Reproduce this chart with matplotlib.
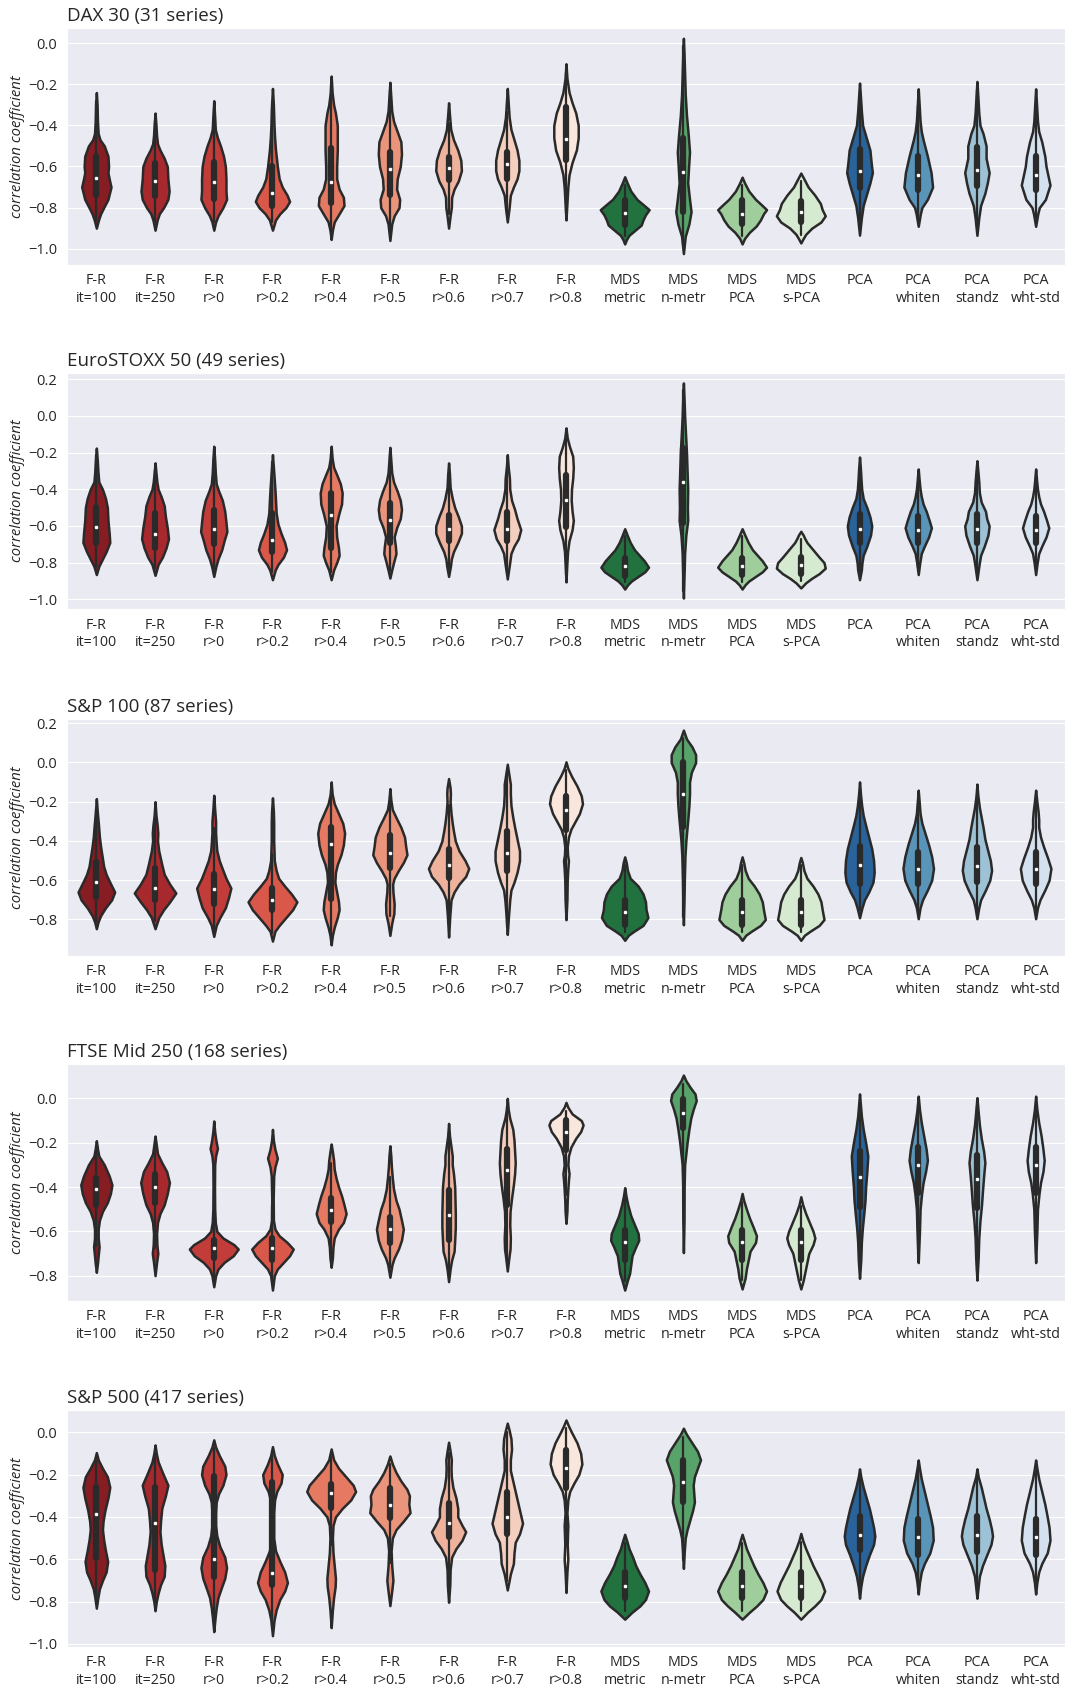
import numpy as np
import matplotlib
matplotlib.use('Agg')
import matplotlib.pyplot as plt
import seaborn as sns
from matplotlib.ticker import MultipleLocator

sns.set_style('darkgrid')
plt.rcParams['font.family'] = ['Open Sans', 'DejaVu Sans']

labels = ['F-R\nit=100', 'F-R\nit=250', 'F-R\nr>0', 'F-R\nr>0.2', 'F-R\nr>0.4',
          'F-R\nr>0.5', 'F-R\nr>0.6', 'F-R\nr>0.7', 'F-R\nr>0.8',
          'MDS\nmetric', 'MDS\nn-metr', 'MDS\nPCA', 'MDS\ns-PCA',
          'PCA', 'PCA\nwhiten', 'PCA\nstandz', 'PCA\nwht-std']

# density outlines: (correlation, half width) from top to bottom
dax_shape = [
    [(-0.24,0),(-0.30,0.012),(-0.38,0.018),(-0.44,0.03),(-0.47,0.06),(-0.50,0.13),(-0.55,0.19),(-0.60,0.2),(-0.63,0.19),(-0.66,0.21),(-0.70,0.24),(-0.76,0.19),(-0.80,0.12),(-0.83,0.07),(-0.86,0.035),(-0.90,0)],
    [(-0.34,0),(-0.40,0.015),(-0.45,0.025),(-0.49,0.04),(-0.52,0.08),(-0.56,0.15),(-0.60,0.2),(-0.66,0.21),(-0.72,0.23),(-0.76,0.21),(-0.80,0.14),(-0.83,0.07),(-0.86,0.035),(-0.91,0)],
    [(-0.28,0),(-0.36,0.015),(-0.42,0.025),(-0.46,0.06),(-0.50,0.11),(-0.55,0.16),(-0.60,0.19),(-0.66,0.2),(-0.72,0.2),(-0.76,0.21),(-0.80,0.15),(-0.84,0.07),(-0.87,0.03),(-0.91,0)],
    [(-0.22,0),(-0.30,0.015),(-0.40,0.025),(-0.46,0.035),(-0.52,0.05),(-0.60,0.08),(-0.66,0.11),(-0.70,0.16),(-0.74,0.24),(-0.77,0.28),(-0.80,0.22),(-0.83,0.12),(-0.86,0.05),(-0.91,0)],
    [(-0.16,0),(-0.24,0.015),(-0.30,0.04),(-0.34,0.07),(-0.40,0.1),(-0.46,0.1),(-0.52,0.1),(-0.60,0.09),(-0.66,0.09),(-0.71,0.13),(-0.75,0.2),(-0.79,0.21),(-0.83,0.13),(-0.87,0.05),(-0.91,0.02),(-0.955,0)],
    [(-0.19,0),(-0.26,0.015),(-0.33,0.03),(-0.38,0.06),(-0.43,0.12),(-0.48,0.18),(-0.54,0.19),(-0.60,0.17),(-0.66,0.12),(-0.71,0.11),(-0.76,0.16),(-0.80,0.15),(-0.84,0.07),(-0.88,0.03),(-0.96,0)],
    [(-0.29,0),(-0.35,0.015),(-0.42,0.035),(-0.47,0.08),(-0.52,0.15),(-0.57,0.2),(-0.62,0.21),(-0.67,0.16),(-0.71,0.09),(-0.75,0.05),(-0.80,0.045),(-0.84,0.025),(-0.90,0)],
    [(-0.22,0),(-0.29,0.015),(-0.36,0.03),(-0.42,0.06),(-0.47,0.11),(-0.52,0.16),(-0.57,0.19),(-0.62,0.19),(-0.66,0.16),(-0.70,0.1),(-0.74,0.05),(-0.80,0.03),(-0.87,0)],
    [(-0.10,0),(-0.17,0.015),(-0.24,0.05),(-0.29,0.1),(-0.34,0.16),(-0.40,0.2),(-0.46,0.2),(-0.52,0.17),(-0.58,0.1),(-0.64,0.05),(-0.70,0.03),(-0.78,0.015),(-0.86,0)],
    [(-0.65,0),(-0.68,0.04),(-0.72,0.1),(-0.76,0.2),(-0.79,0.32),(-0.81,0.4),(-0.835,0.34),(-0.86,0.3),(-0.885,0.27),(-0.91,0.17),(-0.935,0.07),(-0.955,0.03),(-0.977,0)],
    [(0.024,0),(-0.05,0.01),(-0.15,0.02),(-0.25,0.03),(-0.35,0.05),(-0.45,0.08),(-0.53,0.1),(-0.60,0.085),(-0.68,0.07),(-0.76,0.1),(-0.82,0.125),(-0.88,0.09),(-0.94,0.03),(-1.024,0)],
    [(-0.652,0),(-0.68,0.04),(-0.72,0.11),(-0.76,0.22),(-0.79,0.33),(-0.81,0.4),(-0.83,0.35),(-0.86,0.3),(-0.89,0.23),(-0.92,0.12),(-0.95,0.04),(-0.977,0)],
    [(-0.632,0),(-0.66,0.05),(-0.70,0.12),(-0.74,0.23),(-0.78,0.32),(-0.81,0.35),(-0.84,0.4),(-0.87,0.33),(-0.90,0.18),(-0.93,0.08),(-0.95,0.04),(-0.972,0)],
    [(-0.194,0),(-0.26,0.015),(-0.33,0.03),(-0.40,0.05),(-0.45,0.1),(-0.52,0.17),(-0.58,0.19),(-0.63,0.21),(-0.68,0.17),(-0.73,0.12),(-0.79,0.06),(-0.85,0.03),(-0.934,0)],
    [(-0.222,0),(-0.30,0.015),(-0.38,0.03),(-0.43,0.05),(-0.47,0.08),(-0.55,0.15),(-0.63,0.21),(-0.70,0.235),(-0.76,0.15),(-0.80,0.06),(-0.83,0.035),(-0.891,0)],
    [(-0.186,0),(-0.26,0.015),(-0.34,0.03),(-0.40,0.05),(-0.44,0.1),(-0.50,0.15),(-0.56,0.15),(-0.63,0.2),(-0.68,0.17),(-0.73,0.13),(-0.79,0.06),(-0.85,0.03),(-0.935,0)],
    [(-0.222,0),(-0.30,0.015),(-0.38,0.03),(-0.43,0.05),(-0.48,0.1),(-0.55,0.15),(-0.60,0.17),(-0.69,0.235),(-0.76,0.16),(-0.80,0.06),(-0.83,0.035),(-0.891,0)],
]
dax_q75 = [-0.55, -0.585, -0.58, -0.60, -0.51, -0.53, -0.555, -0.53, -0.31, -0.762, -0.462, -0.762, -0.77, -0.514, -0.551, -0.507, -0.551]
dax_q50 = [-0.655, -0.673, -0.677, -0.727, -0.675, -0.611, -0.605, -0.59, -0.465, -0.827, -0.629, -0.83, -0.823, -0.624, -0.64, -0.619, -0.64]
dax_q25 = [-0.74, -0.745, -0.76, -0.79, -0.78, -0.74, -0.665, -0.66, -0.57, -0.883, -0.822, -0.88, -0.872, -0.705, -0.716, -0.697, -0.716]

stoxx_shape = [
    [(-0.175,0),(-0.24,0.015),(-0.30,0.025),(-0.36,0.04),(-0.40,0.1),(-0.45,0.15),(-0.50,0.18),(-0.57,0.19),(-0.64,0.21),(-0.69,0.22),(-0.74,0.16),(-0.78,0.1),(-0.82,0.04),(-0.865,0)],
    [(-0.256,0),(-0.31,0.015),(-0.36,0.03),(-0.40,0.05),(-0.44,0.1),(-0.49,0.15),(-0.55,0.17),(-0.61,0.2),(-0.67,0.22),(-0.72,0.18),(-0.77,0.12),(-0.81,0.05),(-0.869,0)],
    [(-0.165,0),(-0.24,0.015),(-0.31,0.025),(-0.37,0.04),(-0.41,0.08),(-0.46,0.14),(-0.52,0.18),(-0.58,0.2),(-0.63,0.215),(-0.68,0.17),(-0.73,0.13),(-0.78,0.07),(-0.82,0.035),(-0.875,0)],
    [(-0.211,0),(-0.28,0.015),(-0.35,0.03),(-0.40,0.04),(-0.46,0.05),(-0.53,0.06),(-0.59,0.09),(-0.64,0.14),(-0.69,0.2),(-0.73,0.23),(-0.77,0.18),(-0.81,0.09),(-0.84,0.045),(-0.893,0)],
    [(-0.165,0),(-0.23,0.015),(-0.28,0.04),(-0.32,0.09),(-0.37,0.15),(-0.42,0.18),(-0.48,0.17),(-0.54,0.12),(-0.60,0.08),(-0.66,0.09),(-0.72,0.12),(-0.76,0.13),(-0.80,0.09),(-0.84,0.04),(-0.893,0)],
    [(-0.171,0),(-0.24,0.015),(-0.31,0.03),(-0.36,0.06),(-0.41,0.12),(-0.46,0.17),(-0.51,0.19),(-0.56,0.17),(-0.61,0.11),(-0.66,0.07),(-0.71,0.09),(-0.75,0.1),(-0.80,0.06),(-0.84,0.03),(-0.884,0)],
    [(-0.256,0),(-0.32,0.015),(-0.39,0.025),(-0.45,0.06),(-0.50,0.1),(-0.55,0.16),(-0.60,0.21),(-0.64,0.21),(-0.69,0.15),(-0.74,0.08),(-0.78,0.045),(-0.82,0.03),(-0.875,0)],
    [(-0.211,0),(-0.28,0.015),(-0.34,0.035),(-0.40,0.04),(-0.46,0.07),(-0.51,0.12),(-0.56,0.16),(-0.62,0.22),(-0.67,0.18),(-0.71,0.11),(-0.75,0.06),(-0.81,0.035),(-0.889,0)],
    [(-0.065,0),(-0.12,0.02),(-0.17,0.06),(-0.22,0.11),(-0.28,0.12),(-0.34,0.11),(-0.40,0.09),(-0.46,0.085),(-0.52,0.1),(-0.57,0.12),(-0.62,0.1),(-0.68,0.05),(-0.74,0.025),(-0.82,0.012),(-0.905,0)],
    [(-0.615,0),(-0.65,0.04),(-0.69,0.09),(-0.73,0.16),(-0.76,0.24),(-0.79,0.32),(-0.825,0.39),(-0.85,0.33),(-0.875,0.22),(-0.90,0.11),(-0.92,0.05),(-0.944,0)],
    [(0.18,0),(0.10,0.01),(0.0,0.02),(-0.10,0.035),(-0.20,0.05),(-0.30,0.06),(-0.40,0.07),(-0.50,0.065),(-0.57,0.07),(-0.65,0.04),(-0.75,0.02),(-0.85,0.012),(-0.993,0)],
    [(-0.615,0),(-0.65,0.045),(-0.69,0.1),(-0.73,0.17),(-0.76,0.25),(-0.79,0.33),(-0.825,0.4),(-0.85,0.33),(-0.875,0.22),(-0.90,0.11),(-0.92,0.05),(-0.944,0)],
    [(-0.629,0),(-0.65,0.04),(-0.665,0.06),(-0.69,0.1),(-0.73,0.2),(-0.77,0.3),(-0.80,0.38),(-0.83,0.4),(-0.86,0.3),(-0.885,0.18),(-0.91,0.08),(-0.938,0)],
    [(-0.224,0),(-0.29,0.015),(-0.35,0.025),(-0.40,0.035),(-0.45,0.06),(-0.50,0.12),(-0.55,0.17),(-0.60,0.2),(-0.65,0.18),(-0.71,0.12),(-0.76,0.06),(-0.80,0.04),(-0.84,0.03),(-0.893,0)],
    [(-0.289,0),(-0.35,0.015),(-0.40,0.03),(-0.44,0.05),(-0.48,0.08),(-0.52,0.13),(-0.57,0.18),(-0.61,0.215),(-0.66,0.17),(-0.71,0.1),(-0.75,0.05),(-0.80,0.025),(-0.865,0)],
    [(-0.244,0),(-0.30,0.015),(-0.36,0.03),(-0.42,0.04),(-0.47,0.07),(-0.52,0.14),(-0.56,0.16),(-0.60,0.2),(-0.65,0.18),(-0.71,0.12),(-0.76,0.06),(-0.81,0.035),(-0.893,0)],
    [(-0.289,0),(-0.35,0.015),(-0.40,0.03),(-0.44,0.05),(-0.48,0.08),(-0.52,0.13),(-0.57,0.18),(-0.61,0.215),(-0.66,0.17),(-0.71,0.1),(-0.75,0.05),(-0.80,0.025),(-0.865,0)],
]
stoxx_q75 = [-0.498, -0.529, -0.511, -0.529, -0.42, -0.475, -0.538, -0.525, -0.32, -0.775, -0.175, -0.775, -0.771, -0.533, -0.547, -0.533, -0.547]
stoxx_q50 = [-0.607, -0.642, -0.616, -0.678, -0.54, -0.565, -0.615, -0.615, -0.46, -0.816, -0.362, -0.816, -0.814, -0.615, -0.62, -0.615, -0.62]
stoxx_q25 = [-0.693, -0.72, -0.70, -0.744, -0.72, -0.693, -0.684, -0.684, -0.605, -0.871, -0.584, -0.867, -0.86, -0.693, -0.693, -0.693, -0.693]

sp100_shape = [
    [(-0.184,0),(-0.25,0.015),(-0.32,0.035),(-0.38,0.05),(-0.43,0.07),(-0.49,0.1),(-0.53,0.12),(-0.57,0.16),(-0.61,0.22),(-0.66,0.3),(-0.70,0.25),(-0.74,0.15),(-0.78,0.07),(-0.81,0.03),(-0.847,0)],
    [(-0.20,0),(-0.27,0.015),(-0.32,0.035),(-0.36,0.045),(-0.40,0.04),(-0.45,0.06),(-0.52,0.11),(-0.57,0.15),(-0.62,0.24),(-0.665,0.34),(-0.71,0.24),(-0.75,0.14),(-0.79,0.06),(-0.847,0)],
    [(-0.167,0),(-0.24,0.015),(-0.30,0.03),(-0.36,0.03),(-0.41,0.04),(-0.45,0.05),(-0.50,0.09),(-0.55,0.15),(-0.59,0.2),(-0.64,0.28),(-0.69,0.24),(-0.74,0.19),(-0.79,0.1),(-0.83,0.04),(-0.886,0)],
    [(-0.18,0),(-0.25,0.015),(-0.31,0.02),(-0.40,0.02),(-0.50,0.03),(-0.55,0.06),(-0.59,0.1),(-0.63,0.2),(-0.67,0.31),(-0.71,0.4),(-0.75,0.33),(-0.79,0.22),(-0.83,0.11),(-0.86,0.04),(-0.91,0)],
    [(-0.099,0),(-0.16,0.015),(-0.21,0.05),(-0.26,0.12),(-0.31,0.19),(-0.36,0.22),(-0.42,0.2),(-0.47,0.16),(-0.52,0.1),(-0.56,0.07),(-0.61,0.06),(-0.66,0.09),(-0.71,0.12),(-0.75,0.13),(-0.79,0.1),(-0.84,0.05),(-0.88,0.02),(-0.929,0)],
    [(-0.133,0),(-0.19,0.015),(-0.24,0.04),(-0.28,0.1),(-0.33,0.18),(-0.38,0.24),(-0.43,0.26),(-0.47,0.28),(-0.51,0.22),(-0.55,0.14),(-0.59,0.07),(-0.62,0.045),(-0.66,0.05),(-0.72,0.07),(-0.77,0.065),(-0.82,0.03),(-0.881,0)],
    [(-0.082,0),(-0.13,0.025),(-0.16,0.03),(-0.20,0.025),(-0.26,0.04),(-0.31,0.06),(-0.35,0.08),(-0.40,0.11),(-0.45,0.17),(-0.50,0.27),(-0.54,0.33),(-0.58,0.28),(-0.62,0.17),(-0.66,0.09),(-0.70,0.04),(-0.78,0.02),(-0.889,0)],
    [(-0.009,0),(-0.06,0.025),(-0.11,0.05),(-0.16,0.05),(-0.22,0.06),(-0.28,0.09),(-0.33,0.12),(-0.39,0.16),(-0.45,0.2),(-0.50,0.2),(-0.56,0.16),(-0.61,0.11),(-0.65,0.06),(-0.70,0.04),(-0.78,0.02),(-0.876,0)],
    [(0.003,0),(-0.03,0.03),(-0.07,0.09),(-0.12,0.18),(-0.17,0.25),(-0.21,0.27),(-0.26,0.22),(-0.30,0.15),(-0.34,0.08),(-0.38,0.04),(-0.43,0.02),(-0.47,0.025),(-0.50,0.04),(-0.54,0.03),(-0.60,0.02),(-0.70,0.015),(-0.801,0)],
    [(-0.481,0),(-0.51,0.025),(-0.55,0.045),(-0.59,0.09),(-0.63,0.22),(-0.67,0.3),(-0.71,0.34),(-0.75,0.35),(-0.79,0.38),(-0.83,0.3),(-0.86,0.15),(-0.88,0.06),(-0.906,0)],
    [(0.165,0),(0.12,0.05),(0.08,0.14),(0.04,0.2),(0.0,0.2),(-0.05,0.13),(-0.10,0.1),(-0.16,0.1),(-0.22,0.09),(-0.28,0.075),(-0.33,0.06),(-0.40,0.04),(-0.48,0.025),(-0.60,0.015),(-0.70,0.01),(-0.827,0)],
    [(-0.481,0),(-0.51,0.025),(-0.55,0.05),(-0.59,0.1),(-0.63,0.2),(-0.67,0.28),(-0.71,0.33),(-0.75,0.35),(-0.80,0.38),(-0.83,0.3),(-0.86,0.15),(-0.88,0.06),(-0.906,0)],
    [(-0.484,0),(-0.51,0.025),(-0.55,0.05),(-0.59,0.1),(-0.63,0.2),(-0.67,0.28),(-0.71,0.33),(-0.75,0.35),(-0.80,0.38),(-0.83,0.3),(-0.86,0.15),(-0.88,0.06),(-0.906,0)],
    [(-0.099,0),(-0.16,0.015),(-0.22,0.035),(-0.27,0.06),(-0.32,0.1),(-0.38,0.15),(-0.44,0.2),(-0.50,0.23),(-0.56,0.24),(-0.61,0.22),(-0.66,0.15),(-0.70,0.08),(-0.74,0.04),(-0.791,0)],
    [(-0.141,0),(-0.20,0.015),(-0.26,0.03),(-0.31,0.06),(-0.36,0.11),(-0.42,0.17),(-0.48,0.22),(-0.54,0.25),(-0.60,0.22),(-0.65,0.15),(-0.70,0.07),(-0.74,0.03),(-0.796,0)],
    [(-0.11,0),(-0.17,0.015),(-0.23,0.04),(-0.28,0.07),(-0.33,0.1),(-0.39,0.13),(-0.44,0.17),(-0.50,0.22),(-0.55,0.24),(-0.60,0.21),(-0.65,0.14),(-0.70,0.06),(-0.74,0.03),(-0.796,0)],
    [(-0.141,0),(-0.20,0.02),(-0.25,0.04),(-0.29,0.05),(-0.33,0.05),(-0.38,0.08),(-0.43,0.13),(-0.49,0.2),(-0.54,0.25),(-0.60,0.22),(-0.65,0.15),(-0.70,0.07),(-0.74,0.03),(-0.796,0)],
]
sp100_q75 = [-0.507, -0.537, -0.566, -0.639, -0.328, -0.371, -0.439, -0.349, -0.172, -0.702, 0.003, -0.702, -0.702, -0.427, -0.456, -0.43, -0.456]
sp100_q50 = [-0.609, -0.638, -0.643, -0.702, -0.417, -0.461, -0.524, -0.459, -0.243, -0.762, -0.163, -0.762, -0.762, -0.52, -0.541, -0.527, -0.541]
sp100_q25 = [-0.685, -0.702, -0.72, -0.753, -0.694, -0.536, -0.587, -0.553, -0.345, -0.83, -0.328, -0.83, -0.83, -0.617, -0.621, -0.609, -0.621]

ftse_shape = [
    [(-0.191,0),(-0.23,0.02),(-0.26,0.04),(-0.30,0.13),(-0.35,0.21),(-0.39,0.255),(-0.43,0.23),(-0.47,0.18),(-0.51,0.1),(-0.55,0.05),(-0.59,0.03),(-0.63,0.03),(-0.67,0.045),(-0.71,0.03),(-0.74,0.02),(-0.785,0)],
    [(-0.17,0),(-0.21,0.02),(-0.25,0.04),(-0.29,0.11),(-0.33,0.19),(-0.38,0.235),(-0.43,0.2),(-0.48,0.15),(-0.52,0.08),(-0.56,0.04),(-0.61,0.025),(-0.66,0.03),(-0.70,0.045),(-0.74,0.025),(-0.80,0)],
    [(-0.102,0),(-0.15,0.015),(-0.19,0.035),(-0.226,0.06),(-0.26,0.03),(-0.30,0.015),(-0.40,0.012),(-0.50,0.015),(-0.56,0.025),(-0.60,0.05),(-0.63,0.15),(-0.66,0.33),(-0.68,0.4),(-0.71,0.32),(-0.74,0.17),(-0.77,0.07),(-0.80,0.03),(-0.85,0)],
    [(-0.14,0),(-0.19,0.015),(-0.23,0.04),(-0.27,0.08),(-0.31,0.04),(-0.35,0.02),(-0.45,0.012),(-0.55,0.015),(-0.59,0.04),(-0.62,0.11),(-0.65,0.24),(-0.68,0.34),(-0.71,0.28),(-0.74,0.18),(-0.77,0.08),(-0.80,0.03),(-0.865,0)],
    [(-0.206,0),(-0.24,0.02),(-0.28,0.04),(-0.32,0.05),(-0.36,0.08),(-0.40,0.12),(-0.44,0.17),(-0.48,0.21),(-0.52,0.245),(-0.56,0.2),(-0.59,0.12),(-0.63,0.05),(-0.67,0.03),(-0.72,0.02),(-0.762,0)],
    [(-0.214,0),(-0.26,0.015),(-0.31,0.025),(-0.36,0.04),(-0.41,0.06),(-0.46,0.1),(-0.50,0.15),(-0.55,0.19),(-0.59,0.22),(-0.64,0.19),(-0.68,0.14),(-0.72,0.07),(-0.75,0.035),(-0.807,0)],
    [(-0.113,0),(-0.17,0.015),(-0.22,0.04),(-0.26,0.06),(-0.30,0.06),(-0.34,0.08),(-0.40,0.1),(-0.46,0.105),(-0.52,0.11),(-0.58,0.11),(-0.64,0.1),(-0.69,0.09),(-0.73,0.05),(-0.77,0.025),(-0.827,0)],
    [(0.0,0),(-0.05,0.015),(-0.09,0.04),(-0.14,0.09),(-0.19,0.11),(-0.24,0.12),(-0.29,0.13),(-0.34,0.12),(-0.39,0.1),(-0.45,0.07),(-0.51,0.045),(-0.57,0.04),(-0.63,0.05),(-0.68,0.045),(-0.72,0.025),(-0.779,0)],
    [(-0.018,0),(-0.04,0.03),(-0.07,0.1),(-0.10,0.25),(-0.12,0.28),(-0.15,0.24),(-0.18,0.16),(-0.22,0.08),(-0.26,0.04),(-0.30,0.03),(-0.34,0.05),(-0.37,0.04),(-0.41,0.03),(-0.46,0.02),(-0.51,0.015),(-0.564,0)],
    [(-0.403,0),(-0.44,0.02),(-0.48,0.05),(-0.53,0.1),(-0.57,0.16),(-0.61,0.22),(-0.64,0.23),(-0.67,0.18),(-0.71,0.12),(-0.75,0.1),(-0.79,0.08),(-0.82,0.045),(-0.865,0)],
    [(0.105,0),(0.08,0.04),(0.05,0.11),(0.02,0.19),(-0.01,0.21),(-0.05,0.16),(-0.09,0.12),(-0.14,0.09),(-0.20,0.06),(-0.25,0.04),(-0.30,0.02),(-0.40,0.012),(-0.55,0.01),(-0.696,0)],
    [(-0.429,0),(-0.46,0.025),(-0.50,0.07),(-0.54,0.12),(-0.58,0.18),(-0.62,0.235),(-0.65,0.22),(-0.69,0.13),(-0.73,0.1),(-0.77,0.07),(-0.81,0.05),(-0.83,0.03),(-0.86,0)],
    [(-0.444,0),(-0.48,0.03),(-0.52,0.08),(-0.56,0.14),(-0.60,0.2),(-0.63,0.23),(-0.66,0.2),(-0.70,0.13),(-0.74,0.1),(-0.78,0.07),(-0.82,0.04),(-0.86,0)],
    [(0.02,0),(-0.03,0.015),(-0.08,0.03),(-0.14,0.06),(-0.20,0.1),(-0.26,0.135),(-0.33,0.12),(-0.40,0.1),(-0.46,0.09),(-0.52,0.07),(-0.59,0.045),(-0.65,0.03),(-0.73,0.02),(-0.812,0)],
    [(0.01,0),(-0.05,0.02),(-0.11,0.05),(-0.17,0.09),(-0.23,0.13),(-0.28,0.15),(-0.33,0.12),(-0.38,0.08),(-0.43,0.055),(-0.50,0.03),(-0.60,0.02),(-0.741,0)],
    [(0.003,0),(-0.06,0.02),(-0.12,0.04),(-0.18,0.07),(-0.24,0.11),(-0.29,0.13),(-0.35,0.11),(-0.42,0.09),(-0.48,0.075),(-0.55,0.05),(-0.63,0.03),(-0.72,0.02),(-0.82,0)],
    [(0.01,0),(-0.05,0.02),(-0.11,0.05),(-0.17,0.09),(-0.23,0.12),(-0.28,0.14),(-0.33,0.12),(-0.38,0.08),(-0.43,0.055),(-0.50,0.03),(-0.60,0.02),(-0.741,0)],
]
ftse_q75 = [-0.358, -0.341, -0.639, -0.632, -0.451, -0.534, -0.414, -0.229, -0.098, -0.594, -0.003, -0.594, -0.594, -0.238, -0.218, -0.256, -0.218]
ftse_q50 = [-0.408, -0.398, -0.674, -0.677, -0.505, -0.591, -0.526, -0.325, -0.15, -0.65, -0.068, -0.65, -0.65, -0.353, -0.302, -0.364, -0.302]
ftse_q25 = [-0.481, -0.474, -0.722, -0.729, -0.556, -0.654, -0.639, -0.481, -0.233, -0.729, -0.135, -0.729, -0.729, -0.489, -0.429, -0.496, -0.429]

sp500_shape = [
    [(-0.096,0),(-0.13,0.03),(-0.17,0.1),(-0.21,0.18),(-0.26,0.22),(-0.31,0.19),(-0.37,0.14),(-0.42,0.11),(-0.46,0.1),(-0.51,0.12),(-0.56,0.15),(-0.61,0.185),(-0.66,0.16),(-0.70,0.1),(-0.74,0.05),(-0.78,0.025),(-0.831,0)],
    [(-0.06,0),(-0.10,0.02),(-0.14,0.05),(-0.19,0.12),(-0.25,0.21),(-0.30,0.17),(-0.36,0.11),(-0.42,0.09),(-0.47,0.08),(-0.53,0.1),(-0.58,0.13),(-0.63,0.16),(-0.68,0.15),(-0.72,0.09),(-0.76,0.05),(-0.80,0.02),(-0.843,0)],
    [(-0.036,0),(-0.07,0.03),(-0.11,0.09),(-0.16,0.18),(-0.20,0.2),(-0.25,0.15),(-0.29,0.08),(-0.33,0.04),(-0.38,0.03),(-0.44,0.03),(-0.49,0.05),(-0.54,0.1),(-0.59,0.18),(-0.64,0.21),(-0.69,0.18),(-0.73,0.13),(-0.78,0.07),(-0.83,0.04),(-0.88,0.02),(-0.942,0)],
    [(-0.068,0),(-0.11,0.03),(-0.15,0.08),(-0.20,0.16),(-0.24,0.14),(-0.28,0.07),(-0.32,0.035),(-0.38,0.02),(-0.50,0.02),(-0.56,0.05),(-0.61,0.12),(-0.66,0.2),(-0.71,0.245),(-0.75,0.2),(-0.79,0.12),(-0.84,0.06),(-0.89,0.025),(-0.961,0)],
    [(-0.079,0),(-0.13,0.04),(-0.17,0.12),(-0.21,0.24),(-0.25,0.36),(-0.28,0.4),(-0.32,0.32),(-0.36,0.18),(-0.40,0.07),(-0.44,0.03),(-0.50,0.02),(-0.57,0.03),(-0.63,0.05),(-0.69,0.07),(-0.73,0.065),(-0.78,0.04),(-0.84,0.02),(-0.923,0)],
    [(-0.112,0),(-0.15,0.04),(-0.19,0.1),(-0.23,0.18),(-0.27,0.28),(-0.30,0.32),(-0.34,0.31),(-0.38,0.33),(-0.42,0.22),(-0.46,0.1),(-0.50,0.04),(-0.56,0.02),(-0.63,0.03),(-0.70,0.05),(-0.75,0.03),(-0.819,0)],
    [(-0.047,0),(-0.09,0.025),(-0.13,0.045),(-0.17,0.04),(-0.21,0.045),(-0.26,0.07),(-0.31,0.12),(-0.36,0.15),(-0.40,0.15),(-0.44,0.22),(-0.47,0.28),(-0.51,0.22),(-0.55,0.12),(-0.59,0.05),(-0.65,0.025),(-0.72,0.02),(-0.803,0)],
    [(0.043,0),(0.01,0.03),(-0.03,0.06),(-0.08,0.07),(-0.13,0.05),(-0.18,0.05),(-0.23,0.09),(-0.28,0.13),(-0.33,0.17),(-0.38,0.21),(-0.43,0.25),(-0.48,0.2),(-0.52,0.13),(-0.57,0.11),(-0.62,0.1),(-0.67,0.05),(-0.745,0)],
    [(0.058,0),(0.03,0.04),(0.0,0.09),(-0.05,0.18),(-0.10,0.24),(-0.15,0.26),(-0.20,0.21),(-0.24,0.13),(-0.28,0.06),(-0.32,0.03),(-0.38,0.015),(-0.44,0.03),(-0.48,0.025),(-0.53,0.02),(-0.60,0.03),(-0.66,0.015),(-0.757,0)],
    [(-0.482,0),(-0.51,0.03),(-0.55,0.07),(-0.59,0.13),(-0.63,0.18),(-0.67,0.25),(-0.71,0.33),(-0.75,0.39),(-0.79,0.34),(-0.82,0.25),(-0.85,0.12),(-0.883,0)],
    [(0.019,0),(-0.01,0.05),(-0.05,0.14),(-0.09,0.23),(-0.13,0.28),(-0.17,0.23),(-0.21,0.18),(-0.25,0.16),(-0.29,0.17),(-0.33,0.18),(-0.37,0.15),(-0.42,0.1),(-0.46,0.06),(-0.50,0.03),(-0.56,0.015),(-0.643,0)],
    [(-0.482,0),(-0.51,0.03),(-0.55,0.07),(-0.59,0.13),(-0.63,0.19),(-0.67,0.26),(-0.71,0.34),(-0.75,0.4),(-0.79,0.34),(-0.82,0.24),(-0.85,0.12),(-0.883,0)],
    [(-0.478,0),(-0.51,0.03),(-0.55,0.08),(-0.59,0.14),(-0.63,0.2),(-0.67,0.27),(-0.71,0.34),(-0.75,0.39),(-0.79,0.33),(-0.82,0.23),(-0.85,0.11),(-0.883,0)],
    [(-0.173,0),(-0.21,0.02),(-0.26,0.06),(-0.31,0.11),(-0.36,0.16),(-0.41,0.2),(-0.45,0.23),(-0.49,0.25),(-0.53,0.23),(-0.58,0.16),(-0.63,0.1),(-0.68,0.05),(-0.73,0.02),(-0.784,0)],
    [(-0.131,0),(-0.17,0.02),(-0.22,0.05),(-0.28,0.1),(-0.34,0.15),(-0.40,0.2),(-0.45,0.235),(-0.51,0.245),(-0.57,0.19),(-0.62,0.1),(-0.66,0.05),(-0.71,0.02),(-0.764,0)],
    [(-0.173,0),(-0.21,0.02),(-0.26,0.07),(-0.31,0.11),(-0.36,0.15),(-0.41,0.2),(-0.46,0.24),(-0.49,0.255),(-0.53,0.23),(-0.58,0.16),(-0.63,0.09),(-0.68,0.04),(-0.73,0.02),(-0.784,0)],
    [(-0.131,0),(-0.17,0.02),(-0.22,0.05),(-0.28,0.1),(-0.34,0.15),(-0.40,0.19),(-0.45,0.22),(-0.51,0.235),(-0.57,0.19),(-0.62,0.1),(-0.66,0.05),(-0.71,0.02),(-0.764,0)],
]
sp500_q75 = [-0.26, -0.257, -0.209, -0.233, -0.244, -0.265, -0.335, -0.28, -0.083, -0.658, -0.13, -0.658, -0.658, -0.395, -0.409, -0.395, -0.409]
sp500_q50 = [-0.387, -0.427, -0.597, -0.666, -0.288, -0.343, -0.43, -0.402, -0.167, -0.726, -0.233, -0.726, -0.726, -0.485, -0.496, -0.485, -0.496]
sp500_q25 = [-0.595, -0.65, -0.682, -0.721, -0.359, -0.406, -0.493, -0.48, -0.265, -0.784, -0.328, -0.784, -0.784, -0.556, -0.58, -0.565, -0.58]

titles = ['DAX 30 (31 series)', 'EuroSTOXX 50 (49 series)', 'S&P 100 (87 series)',
          'FTSE Mid 250 (168 series)', 'S&P 500 (417 series)']
ylims = [(-1.078, 0.074), (-1.055, 0.236), (-0.986, 0.220), (-0.913, 0.155), (-1.013, 0.105)]

palette = (sns.color_palette('Reds_r', 9) + sns.color_palette('Greens_r', 4)
           + sns.color_palette('Blues_r', 4))
colors = [sns.desaturate(c, 0.75) for c in palette]
EDGE = '#2a2a2a'


def draw_panel(ax, title, shape, q75, q50, q25, ylim):
    pos = np.arange(len(shape))
    stats, widths = [], []
    for s, med in zip(shape, q50):
        ys = [p[0] for p in s]
        ws = [p[1] for p in s]
        stats.append(dict(coords=ys, vals=ws, mean=med, median=med,
                          min=min(ys), max=max(ys)))
        widths.append(2.08 * max(ws))
    parts = ax.violin(stats, positions=pos, widths=widths, showmeans=False,
                      showextrema=False, showmedians=False)
    for body, c in zip(parts['bodies'], colors):
        body.set_facecolor(c)
        body.set_edgecolor(EDGE)
        body.set_linewidth(1.8)
        body.set_alpha(1)

    # inner box: whiskers, quartile bar and median dot
    for x, s, hi, med, lo in zip(pos, shape, q75, q50, q25):
        top, bottom = s[0][0] - 0.04, s[-1][0] + 0.04
        iqr = hi - lo
        w_hi = min(top, hi + 1.5 * iqr)
        w_lo = max(bottom, lo - 1.5 * iqr)
        ax.plot([x, x], [w_lo, w_hi], color=EDGE, lw=1.6)
        ax.plot([x, x], [lo, hi], color=EDGE, lw=4.5)
        ax.scatter(x, med, s=10, color='white', edgecolor=EDGE, lw=0.5, zorder=3)

    ax.set_xlim(-0.5, len(shape) - 0.5)
    ax.set_ylim(*ylim)
    ax.yaxis.set_major_locator(MultipleLocator(0.2))
    ax.set_xticks(pos)
    ax.set_xticklabels(labels, fontsize=10.3, color='.15', linespacing=1.25)
    ax.tick_params(axis='x', pad=2.5)
    ax.tick_params(axis='y', labelsize=10.5, labelcolor='.15')
    ax.xaxis.grid(False)
    ax.set_title(title, loc='left', fontsize=13.5, color='.15', pad=5)
    ax.set_ylabel('correlation coefficient', fontsize=10.7, style='italic', color='.15')
    ax.yaxis.set_label_coords(-0.042, 0.5)


fig = plt.figure(figsize=(10.72, 16.88), dpi=100)
tops = [28, 372.7, 719.3, 1064, 1410]
panels = [
    (dax_shape, dax_q75, dax_q50, dax_q25),
    (stoxx_shape, stoxx_q75, stoxx_q50, stoxx_q25),
    (sp100_shape, sp100_q75, sp100_q50, sp100_q25),
    (ftse_shape, ftse_q75, ftse_q50, ftse_q25),
    (sp500_shape, sp500_q75, sp500_q50, sp500_q25),
]
for top, title, ylim, (shape, q75, q50, q25) in zip(tops, titles, ylims, panels):
    ax = fig.add_axes([67 / 1072, 1 - (top + 236.7) / 1688, 998 / 1072, 236.7 / 1688])
    draw_panel(ax, title, shape, q75, q50, q25, ylim)

fig.savefig('out.png', dpi=100)
